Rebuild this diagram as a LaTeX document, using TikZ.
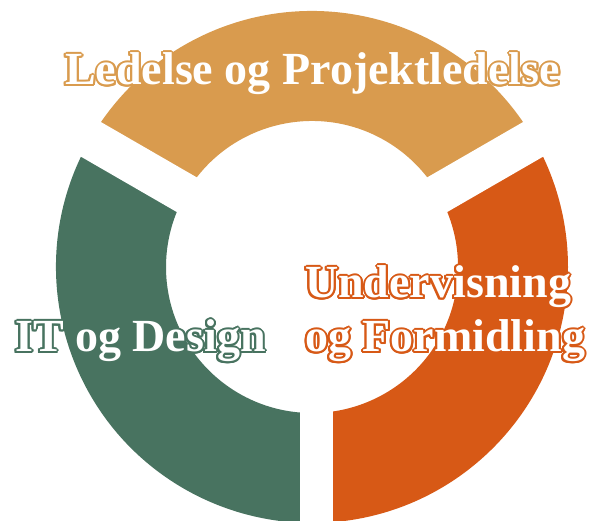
\documentclass[tikz,border=0pt]{standalone}
\usepackage{fontspec}
\setmainfont{Liberation Serif}
\usetikzlibrary{calc}
\definecolor{ledtan}{RGB}{217,155,78}
\definecolor{itgreen}{RGB}{72,115,96}
\definecolor{undorange}{RGB}{215,89,22}
\newcommand{\ringtext}[4]{%
  \foreach \ang in {0,22.5,...,337.5}
    \node[ringlbl,text=#3] at ($(#2)+(\ang:2)$) {#4};
  \node[ringlbl,text=white] (#1) at (#2) {#4};}

\begin{document}
\begin{tikzpicture}[x=1pt,y=1pt,
    ringlbl/.style={inner sep=0pt,anchor=base west,font=\fontsize{46}{46}\selectfont\bfseries}]
  \useasboundingbox (0,0) rectangle (603,521);
  \clip (0,0) rectangle (603,521);
  \coordinate (c) at (312,254);
  \fill[ledtan] ($(c)+(30:256)$) arc (30:150:256) -- ($(c)+(150:146)$) arc (150:30:146) -- cycle;
  \fill[itgreen] ($(c)+(150:256)$) arc (150:270:256) -- ($(c)+(270:146)$) arc (270:150:146) -- cycle;
  \fill[undorange] ($(c)+(270:256)$) arc (270:390:256) -- ($(c)+(390:146)$) arc (390:270:146) -- cycle;
  \draw[white,line width=40pt] (c) -- ++(30:300);
  \draw[white,line width=40pt] (c) -- ++(150:300);
  \fill[white] (300,0) rectangle (333,254);
  \coordinate (ledpos) at (65,436);
  \coordinate (itpos) at (15,169);
  \coordinate (undpos) at (305,223);
  \coordinate (formpos) at (305,169);
  \ringtext{led}{ledpos}{ledtan}{Ledelse og Projektledelse}
  \ringtext{it}{itpos}{itgreen}{IT og Design}
  \ringtext{und}{undpos}{undorange}{Undervisning}
  \ringtext{form}{formpos}{undorange}{og Formidling}
\end{tikzpicture}
\end{document}
